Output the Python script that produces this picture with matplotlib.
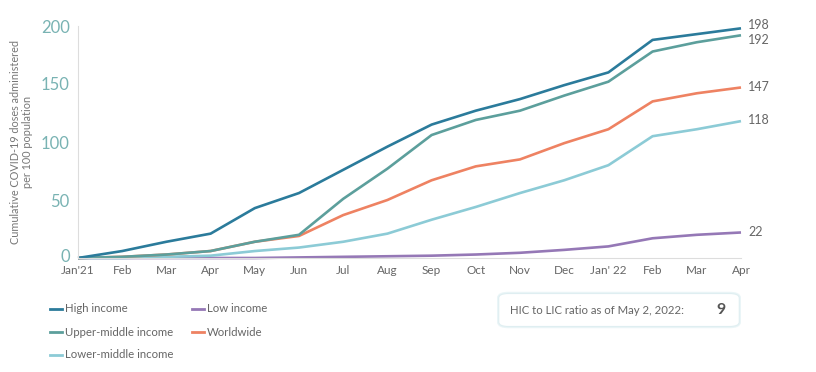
import matplotlib
matplotlib.use("Agg")
import matplotlib.pyplot as plt
import matplotlib.transforms as mtransforms
from matplotlib.lines import Line2D
from matplotlib.patches import FancyBboxPatch

plt.rcParams['font.family'] = ['Lato', 'DejaVu Sans']

months = ["Jan'21", "Feb", "Mar", "Apr", "May", "Jun", "Jul", "Aug", "Sep",
          "Oct", "Nov", "Dec", "Jan' 22", "Feb", "Mar", "Apr"]
high_income = [0, 6, 14, 21, 43, 56, 76, 96, 115, 127, 137, 149, 160, 188, 193, 198]
upper_middle = [0, 1, 3, 6, 14, 20, 51, 77, 106, 119, 127, 140, 152, 178, 186, 192]
worldwide = [0, 1, 3, 6, 14, 19, 37, 50, 67, 79, 85, 99, 111, 135, 142, 147]
lower_middle = [0, 0, 1, 2, 6, 9, 14, 21, 33, 44, 56, 67, 80, 105, 111, 118]
low_income = [0, 0, 0, 0, 0, 0.5, 1, 1.5, 2, 3, 4.5, 7, 10, 17, 20, 22]
yticks = [0, 50, 100, 150, 200]
ratio_text = "HIC to LIC ratio as of May 2, 2022:"
ratio_value = "9"

c_high = "#2b7b9b"
c_upper = "#5c9f9c"
c_lower = "#8ccbd6"
c_world = "#ee8262"
c_low = "#9578b6"

fig = plt.figure(figsize=(8.16, 3.72), dpi=100)
ax = fig.add_axes([78/816, 1-258/372, (741-78)/816, (258-26)/372])
x = list(range(len(months)))
for vals, col in [(low_income, c_low), (lower_middle, c_lower), (worldwide, c_world),
                  (upper_middle, c_upper), (high_income, c_high)]:
    ax.plot(x, vals, color=col, lw=1.9, solid_capstyle='butt', clip_on=False)

label_offsets = [(high_income, 2.5), (upper_middle, -3.5), (worldwide, 0.5),
                 (lower_middle, 0.5), (low_income, 0.5)]
for vals, dy in label_offsets:
    ax.annotate(f"{vals[-1]:g}", (x[-1], vals[-1]), xytext=(5, dy), textcoords='offset points',
                ha='left', va='center', fontsize=9, color='#666666')

ax.set_xlim(0, len(months) - 1)
ax.set_ylim(0, 200)
ax.set_yticks(yticks)
ax.set_yticklabels([str(v) for v in yticks], fontsize=12, color='#79b3b3')
ax.set_xticks(x)
ax.set_xticklabels(months, fontsize=8.5, color='#666666')
ax.tick_params(axis='both', length=0)
ax.tick_params(axis='y', pad=6)
ax.tick_params(axis='x', pad=5)
# nudge the "0" label up slightly so it does not touch "Jan'21"
zero_lbl = ax.get_yticklabels()[0]
zero_lbl.set_transform(zero_lbl.get_transform() +
                       mtransforms.ScaledTranslation(0, 3/100, fig.dpi_scale_trans))
for s in ['top', 'right']:
    ax.spines[s].set_visible(False)
ax.spines['left'].set_color('#dddddd')
ax.spines['bottom'].set_color('#dddddd')
ax.spines['left'].set_linewidth(0.8)
ax.spines['bottom'].set_linewidth(0.8)
ax.set_ylabel("Cumulative COVID-19 doses administered\nper 100 population", fontsize=7.8,
              color='#777777', linespacing=1.15)
ax.yaxis.set_label_coords(-0.068, 0.5)

# legend
legend_items = [
    ("High income", c_high, 50, 309),
    ("Upper-middle income", c_upper, 50, 332),
    ("Lower-middle income", c_lower, 50, 355),
    ("Low income", c_low, 192, 309),
    ("Worldwide", c_world, 192, 332),
]
for label, col, px, py in legend_items:
    fx0, fx1 = px / 816, (px + 12) / 816
    fy = 1 - py / 372
    fig.add_artist(Line2D([fx0, fx1], [fy, fy], color=col, lw=2, transform=fig.transFigure))
    fig.text((px + 15) / 816, fy, label, fontsize=8.2, color='#666666', va='center', ha='left')

# ratio box
bx0, by0, bx1, by1 = 502, 295, 736, 325
shadow = FancyBboxPatch((bx0/816, 1-by1/372), (bx1-bx0)/816, (by1-by0)/372,
                        boxstyle="round,pad=0.004,rounding_size=0.012",
                        transform=fig.transFigure, facecolor='none',
                        edgecolor='#eaf5f7', lw=2.5, zorder=1)
fig.add_artist(shadow)
box = FancyBboxPatch((bx0/816, 1-by1/372), (bx1-bx0)/816, (by1-by0)/372,
                     boxstyle="round,pad=0.004,rounding_size=0.012",
                     transform=fig.transFigure, facecolor='white',
                     edgecolor='#dfeef1', lw=0.8, zorder=2)
fig.add_artist(box)
fig.text(510/816, 1-310/372, ratio_text, fontsize=8.2, color='#666666', va='center', ha='left',
         zorder=3)
fig.text(721/816, 1-310/372, ratio_value, fontsize=11.5, color='#555555', va='center', ha='center',
         fontweight='bold', zorder=3)

fig.savefig("out.png", dpi=100, facecolor='white')
